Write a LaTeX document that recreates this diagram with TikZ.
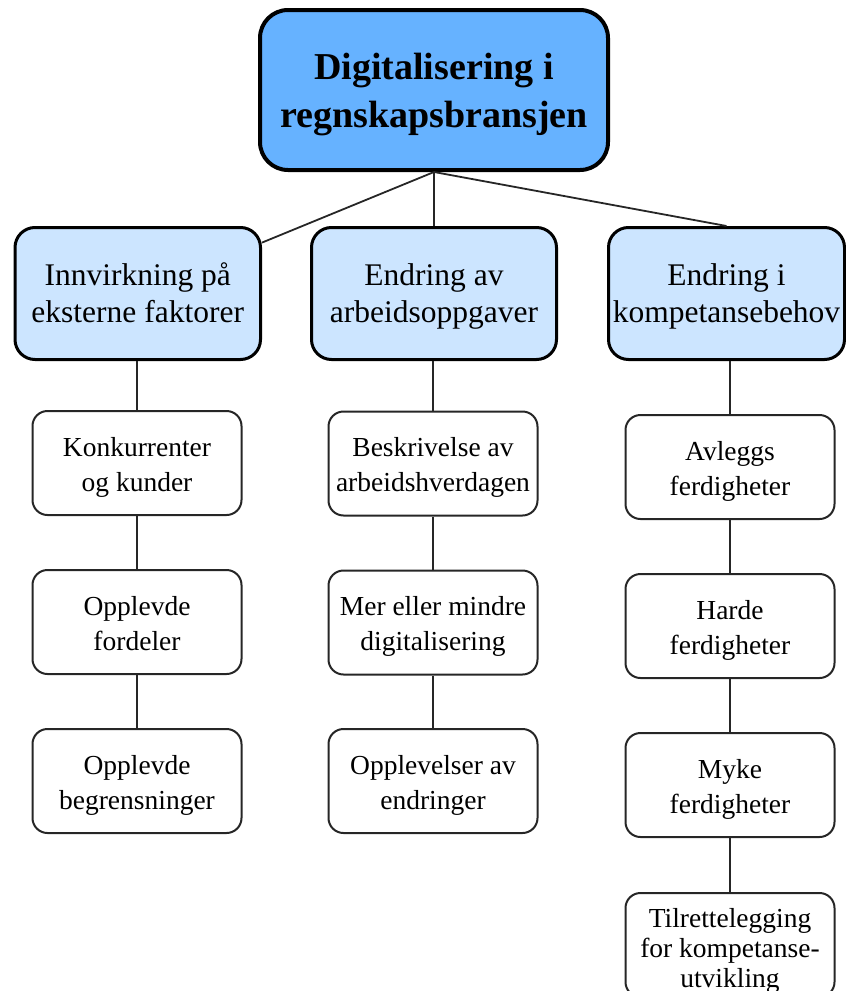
\documentclass[tikz,border=0pt]{standalone}
\usepackage{fontspec}
\setmainfont{Liberation Serif}
\definecolor{topblue}{HTML}{66B2FF}
\definecolor{midblue}{HTML}{CCE5FF}
\newcommand{\boxtext}[2]{\raisebox{#1}[\height][\depth]{\begin{tabular}{@{}c@{}}#2\end{tabular}}}
\tikzset{
  topbox/.style={draw=black, line width=4pt, fill=topblue, rounded corners=28pt,
    minimum width=348pt, minimum height=160pt, inner sep=0pt,
    font=\bfseries\fontsize{38}{48}\selectfont},
  catbox/.style={draw=black, line width=3pt, fill=midblue, rounded corners=20pt,
    minimum height=132pt, inner sep=0pt, font=\fontsize{31.5}{37}\selectfont},
  subbox/.style={draw=black!85, line width=2pt, fill=white, rounded corners=15pt,
    minimum width=209pt, minimum height=104pt, inner sep=0pt,
    font=\fontsize{27.5}{35}\selectfont},
  link/.style={draw=black!85, line width=1.8pt},
}
\begin{document}
\begin{tikzpicture}[x=1pt,y=-1pt]
\useasboundingbox (0,0) rectangle (846,991);

\node[topbox] (root) at (434,90) {\boxtext{-3.4pt}{Digitalisering i\\regnskapsbransjen}};

\node[catbox, minimum width=245.5pt] (c1) at (137.75,293.5) {\boxtext{-2.6pt}{Innvirkning på\\eksterne faktorer}};
\node[catbox, minimum width=245pt] (c2) at (434,293.5) {\boxtext{-2.6pt}{Endring av\\arbeidsoppgaver}};
\node[catbox, minimum width=236pt] (c3) at (726.5,293.5) {\boxtext{-2.6pt}{Endring i\\kompetansebehov}};

\node[subbox] (a1) at (137,463) {\boxtext{-3.5pt}{Konkurrenter\\og kunder}};
\node[subbox] (a2) at (137,622) {\boxtext{-3.5pt}{Opplevde\\fordeler}};
\node[subbox] (a3) at (137,781) {\boxtext{-3.5pt}{Opplevde\\begrensninger}};

\node[subbox] (b1) at (433,463.5) {\boxtext{-3.5pt}{Beskrivelse av\\arbeidshverdagen}};
\node[subbox] (b2) at (433,622.5) {\boxtext{-3.5pt}{Mer eller mindre\\digitalisering}};
\node[subbox] (b3) at (433,781) {\boxtext{-3.5pt}{Opplevelser av\\endringer}};

\node[subbox] (d1) at (730,467) {\boxtext{-3.5pt}{Avleggs\\ferdigheter}};
\node[subbox] (d2) at (730,626) {\boxtext{-3.5pt}{Harde\\ferdigheter}};
\node[subbox] (d3) at (730,785) {\boxtext{-3.5pt}{Myke\\ferdigheter}};
\node[subbox, font=\fontsize{27.5}{30}\selectfont] (d4) at (730,945) {\boxtext{-6pt}{Tilrettelegging\\for kompetanse-\\utvikling}};

\draw[link] (root.south) -- (c1);
\draw[link] (root.south) -- (c2.north);
\draw[link] (root.south) -- (c3.north);

\draw[link] (a1.north) -- (a1.north |- c1.south);
\draw[link] (a1.south) -- (a2.north);
\draw[link] (a2.south) -- (a3.north);

\draw[link] (b1.north) -- (b1.north |- c2.south);
\draw[link] (b1.south) -- (b2.north);
\draw[link] (b2.south) -- (b3.north);

\draw[link] (d1.north) -- (d1.north |- c3.south);
\draw[link] (d1.south) -- (d2.north);
\draw[link] (d2.south) -- (d3.north);
\draw[link] (d3.south) -- (d4.north);
\end{tikzpicture}
\end{document}
